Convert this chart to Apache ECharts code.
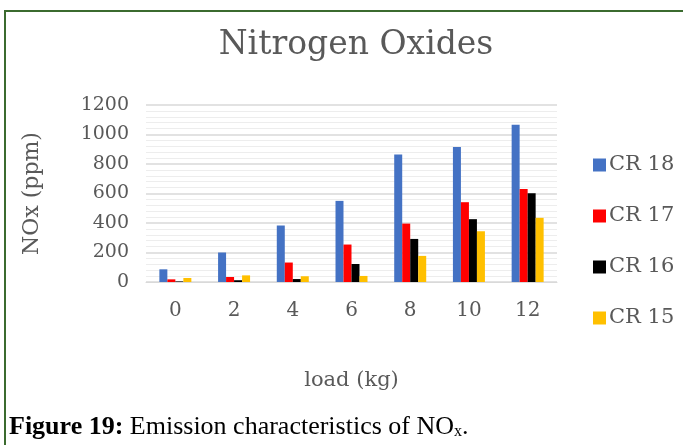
<!doctype html>
<html lang="en">
<head>
    <meta charset="UTF-8">
    <title>Nitrogen Oxides</title>
    <script type="text/javascript" src="https://cdn.jsdelivr.net/npm/echarts@6/dist/echarts.min.js"></script>
    <style>
        html, body {
            margin: 0;
            padding: 0;
            background: #fff;
        }
    </style>
</head>
<body>
<div id="main" style="width: 683px;height:445px;"></div>
<script>
    // 数据
    var loads = ['0', '2', '4', '6', '8', '10', '12'];
    var seriesNames = ['CR 18', 'CR 17', 'CR 16', 'CR 15'];
    var cr18 = [86, 200, 383, 550, 865, 915, 1066];
    var cr17 = [18, 34, 132, 254, 396, 541, 631];
    var cr16 = [4, 12, 20, 122, 292, 426, 602];
    var cr15 = [27, 45, 39, 41, 177, 344, 435];
    var yTicks = [0, 200, 400, 600, 800, 1000, 1200];

    var colors = ['#4472c4', '#ff0000', '#000000', '#ffc000'];
    var txt = '#595959';
    var font = 'DejaVu Serif';

    var myChart = echarts.init(document.getElementById('main'));

    function bar(name, data) {
        return {
            name: name,
            type: 'bar',
            barWidth: 8,
            barGap: 0,
            data: data
        };
    }

    var option = {
        backgroundColor: '#fff',
        color: colors,
        animation: false,
        title: {
            text: 'Nitrogen Oxides',
            left: 351,
            top: 24,
            textAlign: 'center',
            textStyle: {
                fontFamily: font,
                fontSize: 33,
                fontWeight: 'normal',
                color: txt
            }
        },
        legend: {
            orient: 'vertical',
            left: 588,
            top: 149,
            icon: 'rect',
            itemWidth: 13,
            itemHeight: 13,
            itemGap: 29,
            data: seriesNames,
            textStyle: {
                fontFamily: font,
                fontSize: 21,
                lineHeight: 22,
                color: txt,
                padding: [0, 0, 0, -2]
            }
        },
        grid: {
            left: 146,
            right: 126,
            top: 105,
            bottom: 163
        },
        xAxis: {
            type: 'category',
            data: loads,
            name: 'load (kg)',
            nameLocation: 'middle',
            nameGap: 88,
            nameTextStyle: {
                fontFamily: font,
                fontSize: 21,
                color: txt
            },
            axisLine: {lineStyle: {color: '#d9d9d9'}},
            axisTick: {show: false},
            axisLabel: {
                margin: 19,
                fontFamily: font,
                fontSize: 20,
                color: txt
            }
        },
        yAxis: {
            type: 'value',
            min: yTicks[0],
            max: yTicks[yTicks.length - 1],
            interval: yTicks[1] - yTicks[0],
            name: 'NOx (ppm)',
            nameLocation: 'middle',
            nameGap: 103,
            nameTextStyle: {
                fontFamily: font,
                fontSize: 22,
                color: txt
            },
            axisLine: {show: false},
            axisTick: {show: false},
            axisLabel: {
                margin: 17,
                fontFamily: font,
                fontSize: 19,
                color: txt,
                formatter: function (v) { return String(v); }
            },
            splitLine: {lineStyle: {color: '#d9d9d9', width: 1.5}},
            minorTick: {show: false, splitNumber: 5},
            minorSplitLine: {show: true, lineStyle: {color: '#ededed'}}
        },
        graphic: [
            {
                type: 'rect',
                shape: {x: 5, y: 11, width: 690, height: 460},
                style: {fill: null, stroke: '#3b6b2f', lineWidth: 2},
                silent: true
            },
            {
                type: 'text',
                left: 9,
                top: 414,
                style: {
                    text: '{b|Figure 19:} Emission characteristics of NO{s|x}.',
                    fill: '#000',
                    rich: {
                        b: {fontFamily: 'Liberation Serif', fontSize: 26, fontWeight: 'bold', fill: '#000'},
                        s: {fontFamily: 'Liberation Serif', fontSize: 16, verticalAlign: 'bottom', padding: [10, 0, 0, 0], fill: '#000'}
                    },
                    font: '26px "Liberation Serif"'
                }
            }
        ],
        series: [
            bar(seriesNames[0], cr18),
            bar(seriesNames[1], cr17),
            bar(seriesNames[2], cr16),
            bar(seriesNames[3], cr15)
        ]
    };

    myChart.setOption(option);
</script>
</body>
</html>
